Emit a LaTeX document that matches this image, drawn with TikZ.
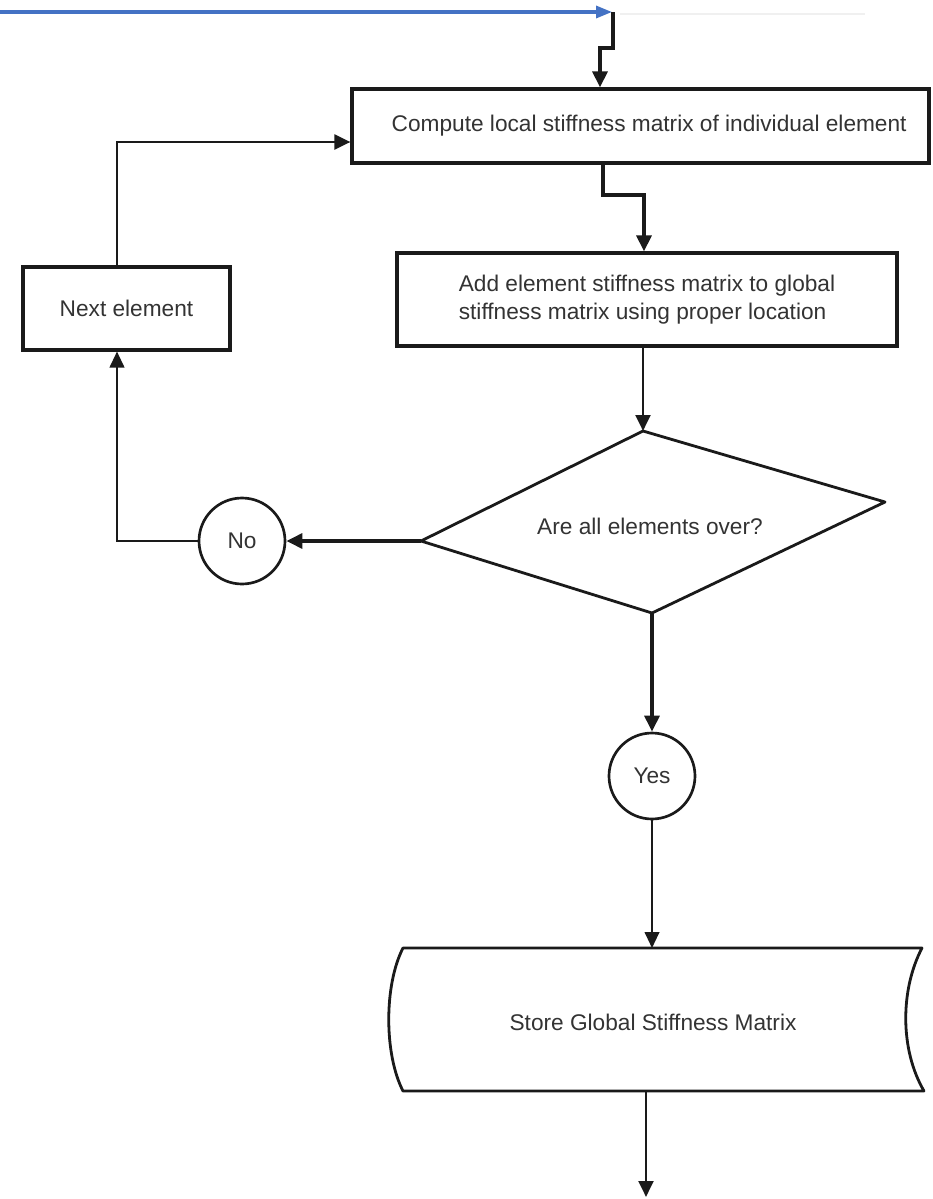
\documentclass[tikz,border=0pt]{standalone}
\usepackage{fontspec}
\setmainfont{Liberation Sans}
\usetikzlibrary{arrows.meta}
\definecolor{ln}{HTML}{1A1A1A}
\definecolor{tx}{HTML}{333333}
\definecolor{blu}{HTML}{4472C4}
\begin{document}
\begin{tikzpicture}[x=0.75pt,y=-0.75pt,
  every node/.style={font=\fontsize{17}{21}\selectfont, text=tx},
  box/.style={draw=ln, line width=2.3pt, rectangle, inner sep=0pt},
  term/.style={draw=ln, circle, line width=2pt, minimum size=86*0.75pt, inner sep=0pt},
  tip/.style={-{Triangle[length=12pt,width=11pt]}},
  heavy/.style={draw=ln, line width=3pt, tip},
  medium/.style={draw=ln, line width=2.2pt, tip},
  light/.style={draw=ln, line width=1.5pt, tip},
  shapeline/.style={draw=ln, line width=2.1pt, line join=round}
]
\useasboundingbox (0,0) rectangle (932,1199);
\fill[white] (0,0) rectangle (932,1199);

% nodes
\node[box, minimum width=577*0.75pt, minimum height=74*0.75pt] (b1) at (640.5,126)
  {\hspace*{13pt}Compute local stiffness matrix of individual element};
\node[box, minimum width=500*0.75pt, minimum height=93*0.75pt, align=left] (b2) at (647,299.5)
  {Add element stiffness matrix to global\\stiffness matrix using proper location};
\node[box, minimum width=207*0.75pt, minimum height=83*0.75pt] (nxt) at (126.5,308.5) {Next element};

% decision diamond
\coordinate (dT) at (643,431);
\coordinate (dR) at (885,502);
\coordinate (dB) at (652,613);
\coordinate (dL) at (421,541);
\draw[shapeline] (dT) -- (dR) -- (dB) -- (dL) -- cycle;
\node (q) at (650,526) {Are all elements over?};

\node[term] (no) at (242,541) {No};
\node[term] (yes) at (652,776) {Yes};

% stored data shape
\coordinate (sTL) at (403,948);
\coordinate (sTR) at (922,948);
\coordinate (sBR) at (924,1091);
\coordinate (sBL) at (403,1091);
\draw[shapeline] (sTL) -- (sTR) .. controls (900,990) and (900,1050) .. (sBR)
  -- (sBL) .. controls (384,1054) and (384,985) .. cycle;
\node (store) at (653,1022) {Store Global Stiffness Matrix};
\coordinate (sT) at (650,948);
\coordinate (sB) at (646,1091);

% connectors
\coordinate (src) at (0,12);
\coordinate (in) at (612,12);
\draw[blu, line width=2.4pt, -{Triangle[length=12pt,width=9pt]}] (src) -- (in);
\draw[black!6, line width=1pt] (620,14) -- (865,14);

\coordinate (k1) at (613,48);
\coordinate (k2) at (600,48);
\draw[heavy] (613,12) -- (k1) -- (k2) -- (k2 |- b1.north);

\coordinate (m1) at (603,195);
\coordinate (m2) at (644,195);
\draw[heavy] (m1 |- b1.south) -- (m1) -- (m2) -- (m2 |- b2.north);

\draw[medium] (dT |- b2.south) -- (dT);
\draw[heavy] (dL) -- (no.east);

\coordinate (c1) at (117,541);
\draw[light] (no.west) -- (c1) -- (c1 |- nxt.south);

\coordinate (c2) at (117,142);
\draw[medium] (c2 |- nxt.north) -- (c2) -- (c2 -| b1.west);

\draw[heavy] (dB) -- (yes.north);
\draw[light] (yes.south) -- (yes.south |- sT);

\coordinate (out) at (646,1197);
\draw[medium] (out |- sB) -- (out);
\end{tikzpicture}
\end{document}
